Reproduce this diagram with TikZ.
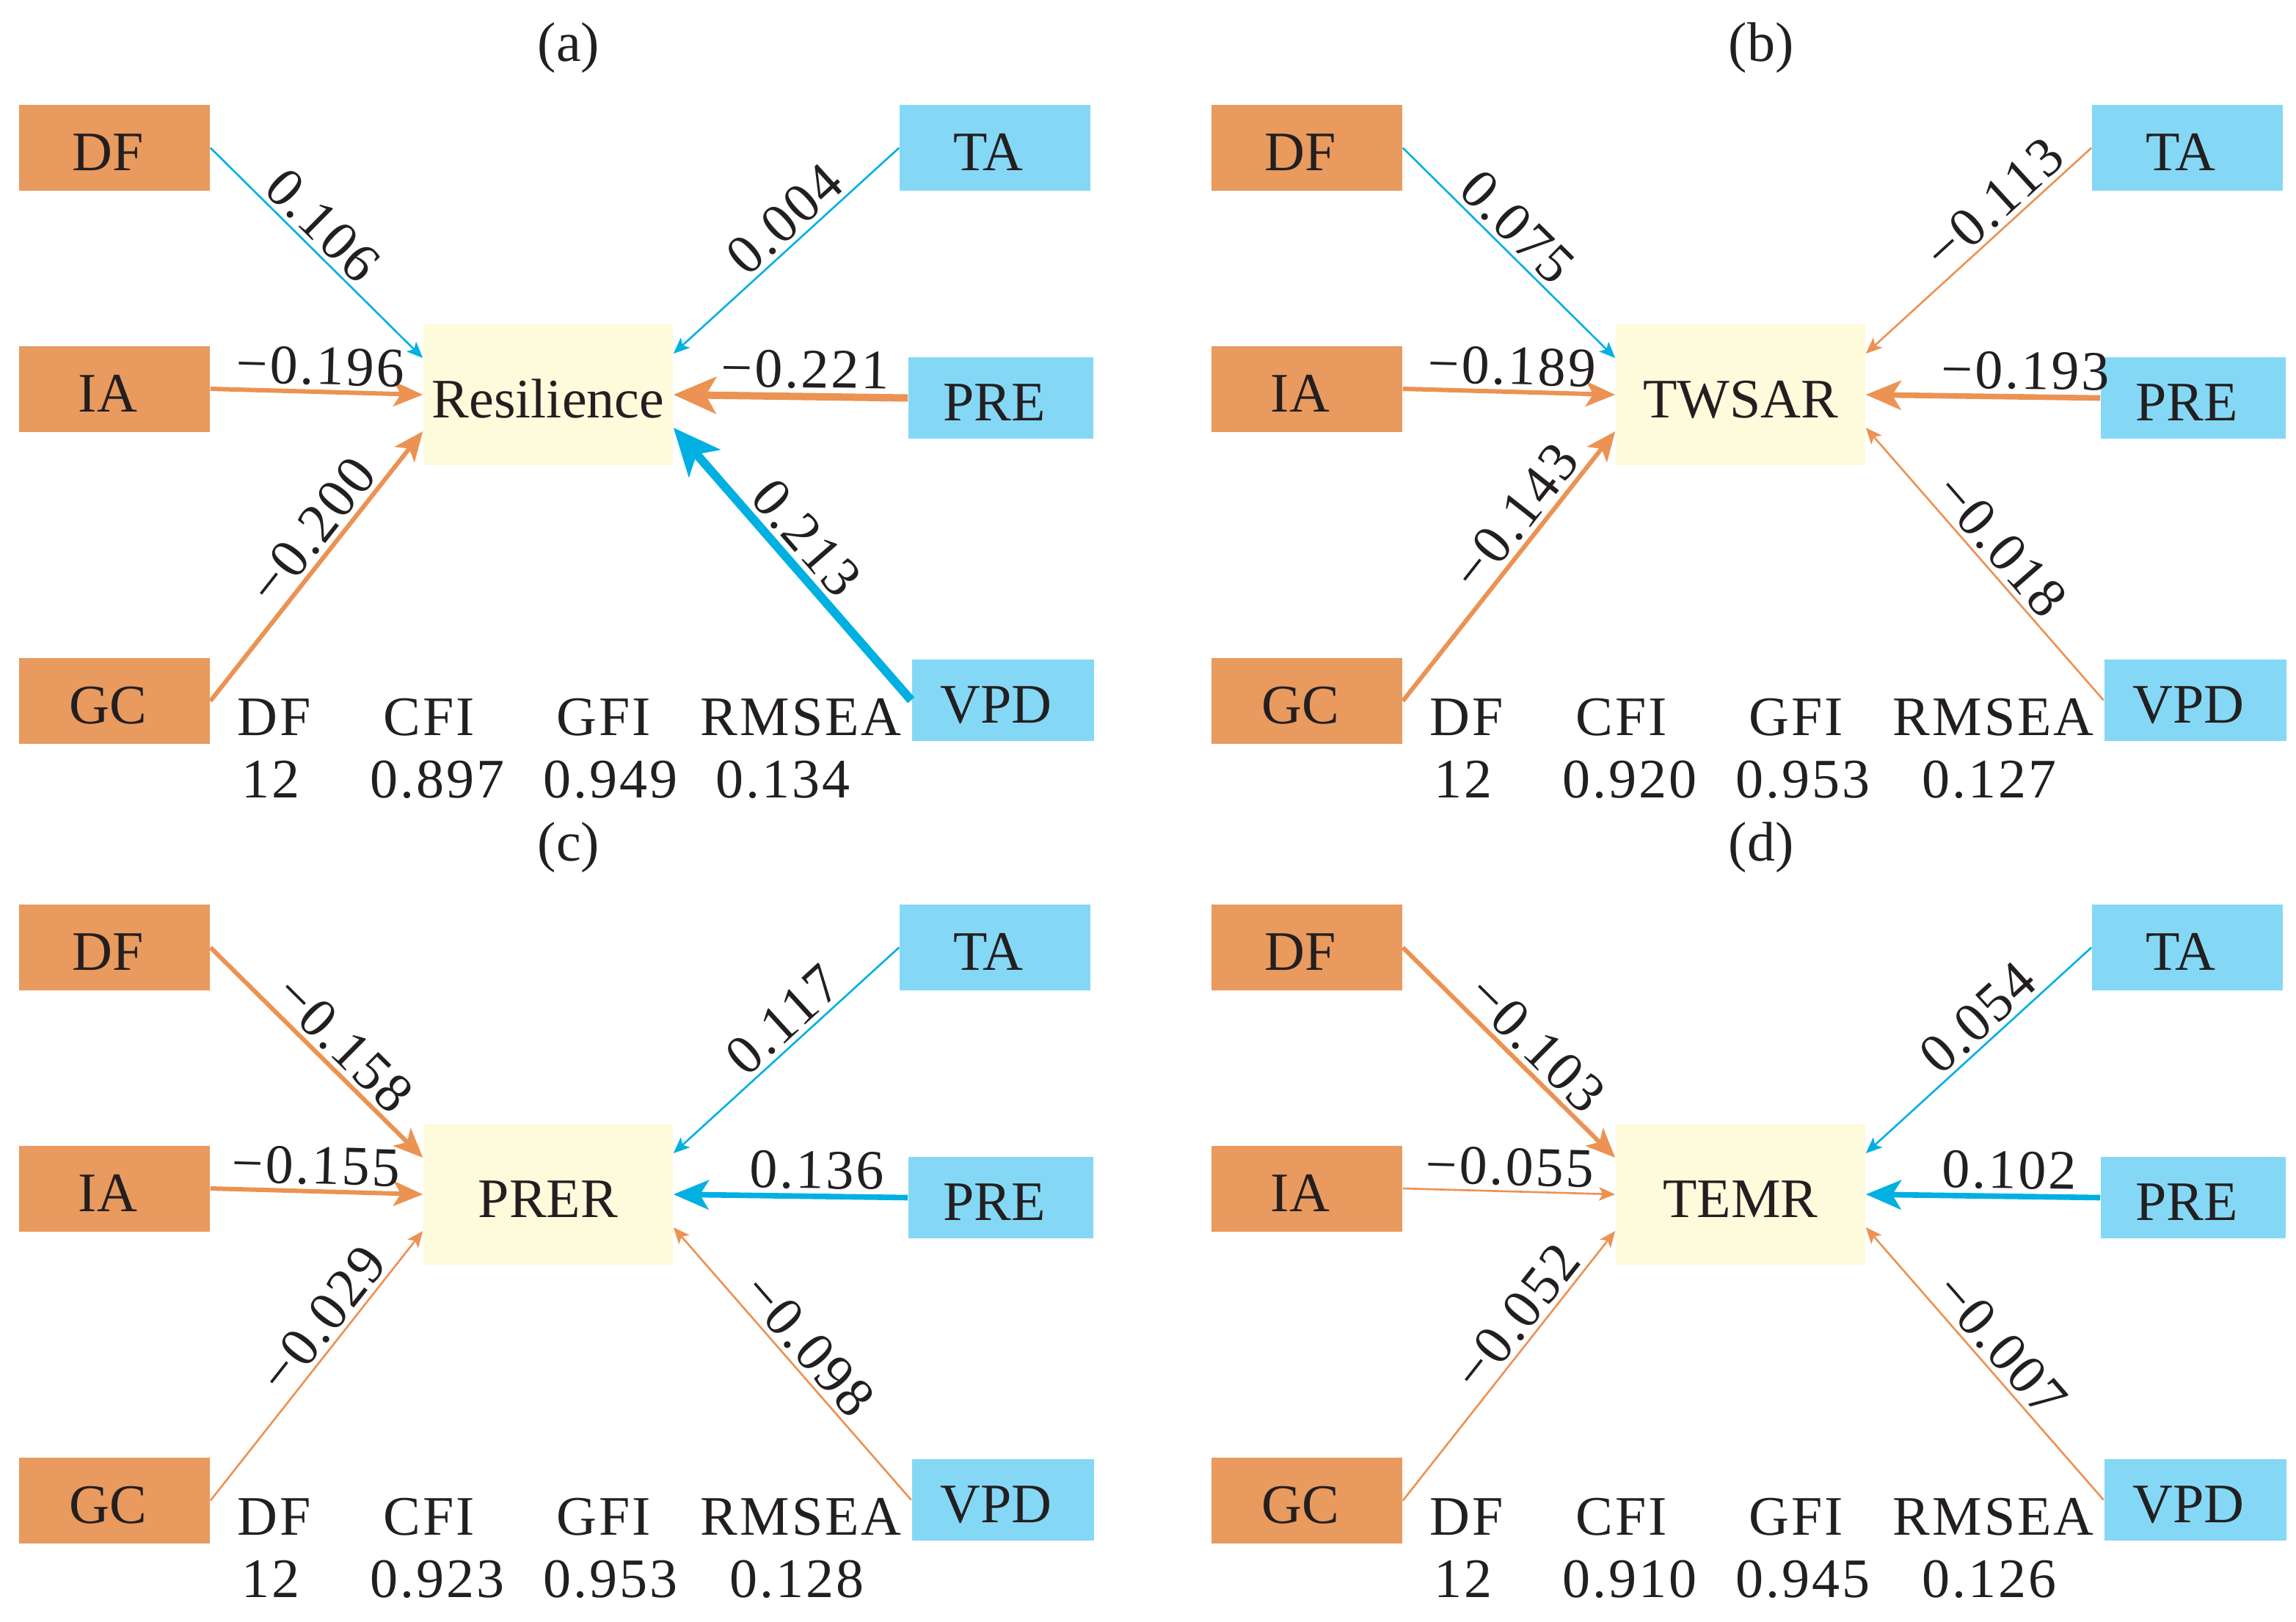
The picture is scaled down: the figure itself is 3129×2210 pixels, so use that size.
\documentclass[tikz,border=0pt]{standalone}
\usepackage{fontspec}
\setmainfont{Liberation Serif}
\newfontfamily\numf{Liberation Serif}[LetterSpace=4]
\usetikzlibrary{arrows.meta}
\definecolor{boxor}{RGB}{233,154,94}
\definecolor{boxbl}{RGB}{133,216,245}
\definecolor{boxye}{RGB}{254,251,220}
\definecolor{arbl}{RGB}{0,176,226}
\definecolor{aror}{RGB}{236,146,82}
\definecolor{txt}{RGB}{35,31,32}

\newcommand\mkpanel[3]{%
  \node[ttl] (#1-t) at (775,65) {#2};
  \node[obox] (#1-DF) at (156,201.5) {DF};
  \node[obox] (#1-IA) at (156,530) {IA};
  \node[obox] (#1-GC) at (156,955.5) {GC};
  \node[bbox, minimum width=65pt, minimum height=29.25pt] (#1-TA) at (1356,201.5) {TA};
  \node[bbox, minimum width=63pt, minimum height=27.75pt] (#1-PRE) at (1364,542.5) {PRE};
  \node[bbox, minimum width=62pt, minimum height=27.75pt] (#1-VPD) at (1366.5,954.5) {VPD};
  \node[cbox] (#1-C) at (747,538) {#3};
}
\newcommand\mkstats[5]{%
  \node[st] (#1-sh1) at (323,1002) {DF};
  \node[st] (#1-sh2) at (522,1002) {CFI};
  \node[st] (#1-sh3) at (758,1002) {GFI};
  \node[st] (#1-sh4) at (954,1002) {RMSEA};
  \node[st] (#1-sv1) at (329,1087) {12};
  \node[st] (#1-sv2) at (504,1087) {#2};
  \node[st] (#1-sv3) at (740,1087) {#3};
  \node[st] (#1-sv4) at (#5,1087) {#4};
}

\begin{document}
\begin{tikzpicture}[x=0.25pt,y=-0.25pt,
  every node/.style={text=txt, font=\fontsize{19}{22}\selectfont},
  bx/.style={inner sep=0pt, text height=15.5pt, text depth=0pt},
  sidebox/.style={bx, execute at begin node={\hspace*{-4.5pt}}},
  obox/.style={sidebox, fill=boxor, minimum width=65pt, minimum height=29.25pt},
  bbox/.style={sidebox, fill=boxbl},
  cbox/.style={bx, fill=boxye, minimum width=85pt, minimum height=48pt},
  ttl/.style={inner sep=0pt},
  st/.style={anchor=base west, inner sep=0pt, font=\fontsize{19}{22}\selectfont\numf},
  lbl/.style={font=\fontsize{19}{22}\selectfont\numf, inner sep=1.5pt, sloped, above},
  aw1/.style={line width=0.65pt, -{Stealth[length=5.5pt,width=4.6pt,inset=1.3pt]}},
  aw2/.style={line width=1.5pt, -{Stealth[length=10pt,width=8.5pt,inset=2.5pt]}},
  aw3/.style={line width=1.9pt, -{Stealth[length=12pt,width=10pt,inset=3pt]}},
  aw4/.style={line width=2.5pt, -{Stealth[length=14.5pt,width=12.5pt,inset=3.5pt]}},
  aw5/.style={line width=3pt, -{Stealth[length=16pt,width=14pt,inset=4pt]}},
  co/.style={draw=aror, fill=aror},
  cb/.style={draw=arbl, fill=arbl},
]
\fill[white] (0,0) rectangle (3129,2210);
\useasboundingbox (0,0) rectangle (3129,2210);

% ---------- (a)
\begin{scope}
\mkpanel{a}{(a)}{Resilience}
\mkstats{a}{0.897}{0.949}{0.134}{975}
\draw[aw1,cb] (a-DF.east) -- node[lbl,pos=.45]{0.106} ([yshift=12.5pt]a-C.west);
\draw[aw2,co] (a-IA.east) -- node[lbl,pos=.515]{−0.196} (a-C.west);
\draw[aw2,co] (a-GC.east) -- node[lbl,pos=.573]{−0.200} ([yshift=-12.5pt]a-C.west);
\draw[aw1,cb] (a-TA.west) -- node[lbl,pos=.434]{0.004} ([yshift=14pt]a-C.east);
\draw[aw4,co] (a-PRE.west) -- node[lbl,pos=.44]{−0.221} (a-C.east);
\draw[aw5,cb] (a-VPD.west) -- node[lbl,pos=.529]{0.213} ([yshift=-11.25pt]a-C.east);
\end{scope}

% ---------- (b)
\begin{scope}[shift={(1625,0)}]
\mkpanel{b}{(b)}{TWSAR}
\mkstats{b}{0.920}{0.953}{0.127}{994}
\draw[aw1,cb] (b-DF.east) -- node[lbl,pos=.46]{0.075} ([yshift=12.5pt]b-C.west);
\draw[aw2,co] (b-IA.east) -- node[lbl,pos=.51]{−0.189} (b-C.west);
\draw[aw2,co] (b-GC.east) -- node[lbl,pos=.624]{−0.143} ([yshift=-12.5pt]b-C.west);
\draw[aw1,co] (b-TA.west) -- node[lbl,pos=.36]{−0.113} ([yshift=14pt]b-C.east);
\draw[aw3,co] (b-PRE.west) -- node[lbl,pos=.32]{−0.193} (b-C.east);
\draw[aw1,co] (b-VPD.west) -- node[lbl,pos=.51]{−0.018} ([yshift=-11.25pt]b-C.east);
\end{scope}

% ---------- (c)
\begin{scope}[shift={(0,1090)}]
\mkpanel{c}{(c)}{PRER}
\mkstats{c}{0.923}{0.953}{0.128}{994}
\draw[aw2,co] (c-DF.east) -- node[lbl,pos=.545]{−0.158} ([yshift=12.5pt]c-C.west);
\draw[aw2,co] (c-IA.east) -- node[lbl,pos=.495]{−0.155} (c-C.west);
\draw[aw1,co] (c-GC.east) -- node[lbl,pos=.617]{−0.029} ([yshift=-12.5pt]c-C.west);
\draw[aw1,cb] (c-TA.west) -- node[lbl,pos=.44]{0.117} ([yshift=14pt]c-C.east);
\draw[aw3,cb] (c-PRE.west) -- node[lbl,pos=.39]{0.136} (c-C.east);
\draw[aw1,co] (c-VPD.west) -- node[lbl,pos=.51]{−0.098} ([yshift=-11.25pt]c-C.east);
\end{scope}

% ---------- (d)
\begin{scope}[shift={(1625,1090)}]
\mkpanel{d}{(d)}{TEMR}
\mkstats{d}{0.910}{0.945}{0.126}{994}
\draw[aw2,co] (d-DF.east) -- node[lbl,pos=.545]{−0.103} ([yshift=12.5pt]d-C.west);
\draw[aw1,co] (d-IA.east) -- node[lbl,pos=.50]{−0.055} (d-C.west);
\draw[aw1,co] (d-GC.east) -- node[lbl,pos=.625]{−0.052} ([yshift=-12.5pt]d-C.west);
\draw[aw1,cb] (d-TA.west) -- node[lbl,pos=.43]{0.054} ([yshift=14pt]d-C.east);
\draw[aw3,cb] (d-PRE.west) -- node[lbl,pos=.39]{0.102} (d-C.east);
\draw[aw1,co] (d-VPD.west) -- node[lbl,pos=.51]{−0.007} ([yshift=-11.25pt]d-C.east);
\end{scope}
\end{tikzpicture}
\end{document}
